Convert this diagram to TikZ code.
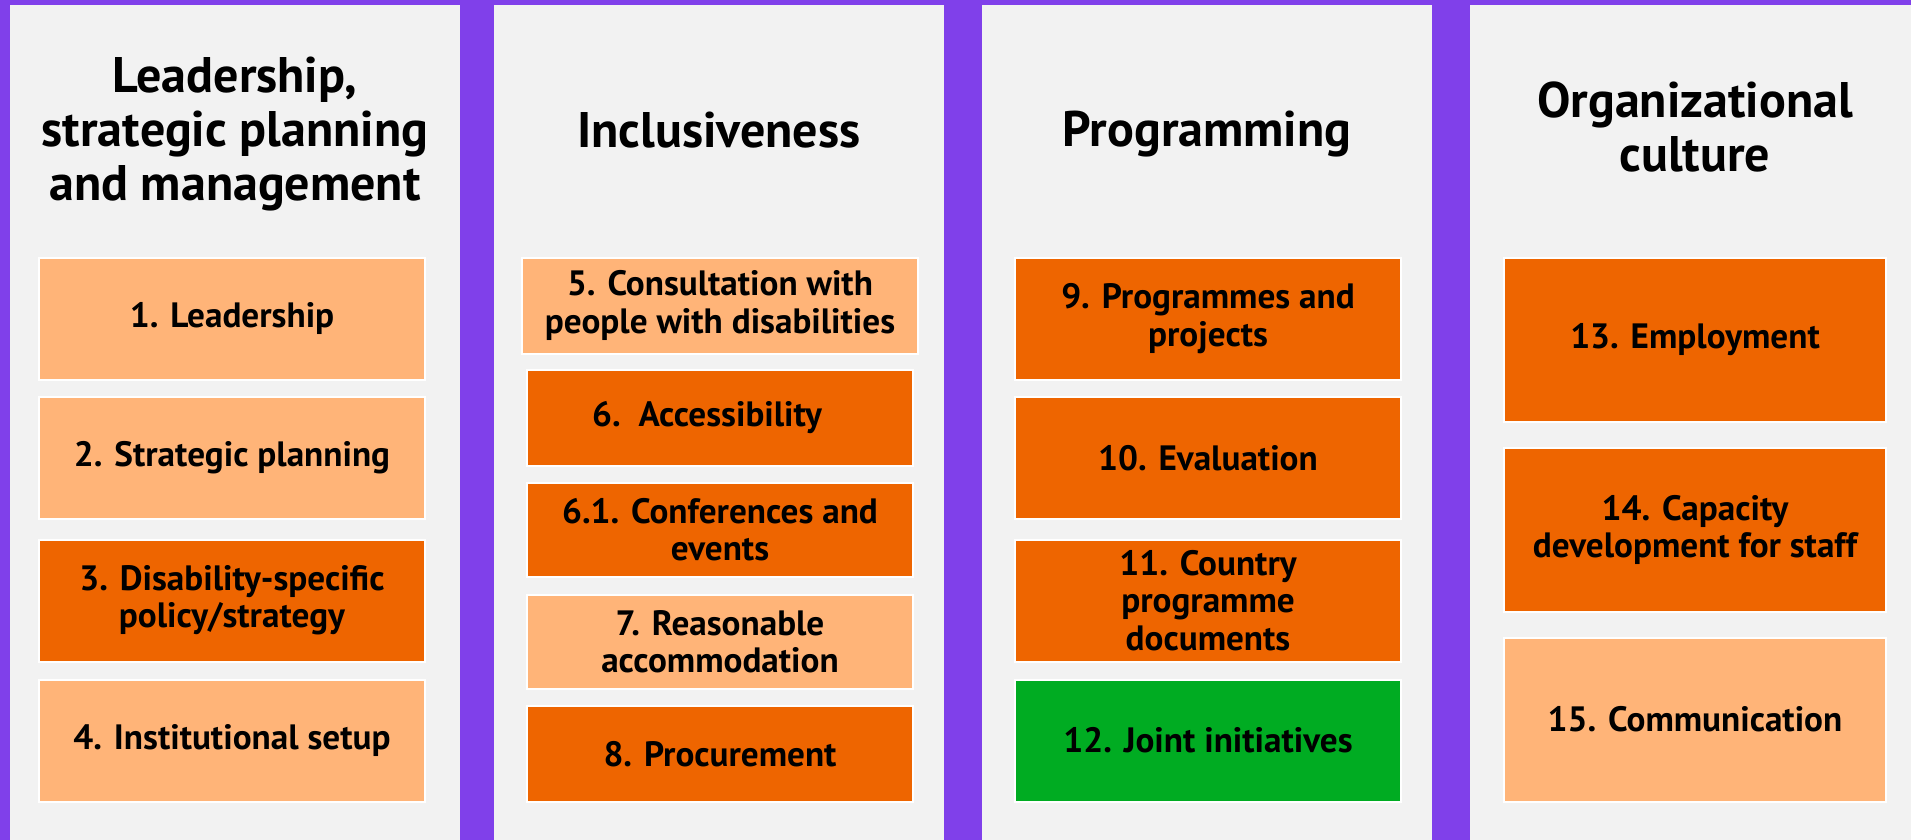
\documentclass[tikz,border=0pt]{standalone}
\usepackage{fontspec}
\setmainfont{PT Sans}
\definecolor{bandpurple}{HTML}{8040EA}
\definecolor{panelgrey}{HTML}{F2F2F2}
\definecolor{lightorange}{HTML}{FFB478}
\definecolor{darkorange}{HTML}{EE6500}
\definecolor{jointgreen}{HTML}{00AC22}
\begin{document}
\begin{tikzpicture}
[x=.5pt,y=-.5pt, title/.style={font=\fontsize{25}{27}\selectfont\bfseries,align=center,inner sep=0pt},
item/.style={draw=white,line width=1pt,align=center,inner sep=0pt,font=\fontsize{17.6}{18.7}\selectfont\bfseries,minimum width=193pt},
lt/.style={item,fill=lightorange},dk/.style={item,fill=darkorange},gr/.style={item,fill=jointgreen}]
\useasboundingbox (0,0) rectangle (1911,840);
\fill[bandpurple] (0,0) rectangle (1911,840);
\foreach \x/\w in {10/450,494/450,982/450,1470/441} \fill[panelgrey] (\x,5) rectangle ++(\w,835);
% column titles
\node(t1) at (235,134)[title]{Leadership,\\strategic planning\\and management};
\node(t2) at (719,130)[title]{Inclusiveness};
\node(t3) at (1207,134.5)[title]{Programming};
\node(t4) at (1695,126.5)[title]{Organizational\\culture};
% leadership
\node(b1) at (232,318.5)[lt,minimum height=61pt]{1. Leadership};\node(b2) at (232,458)[lt,minimum height=61pt]{2. Strategic planning};
\node(b3) at (232,600.5)[dk,minimum height=61pt]{3. Disability-specific\\policy/strategy};\node(b4) at (232,740.5)[lt,minimum height=61pt]{4. Institutional setup};
% inclusiveness
\node(b5) at (720,305.5)[lt,minimum height=48pt,minimum width=198pt]{5. Consultation with\\people with disabilities};
\node(b6) at (720,417.5)[dk,minimum height=48pt]{6.\ \ Accessibility\hspace*{13pt}};\node(b61) at (720,529.5)[dk,minimum height=47pt]{6.1. Conferences and\\events};
\node(b7) at (720,641.5)[lt,minimum height=47pt]{7. Reasonable\\accommodation};\node(b8) at (720,754)[dk,minimum height=48pt]{8. Procurement};
% programming
\node(b9) at (1208,318.5)[dk,minimum height=61pt]{9. Programmes and\\projects};\node(b10) at (1208,458)[dk,minimum height=61pt]{10. Evaluation};
\node(b11) at (1208,600.5)[dk,minimum height=61pt]{11. Country\\programme\\documents};\node(b12) at (1208,740.5)[gr,minimum height=61pt]{12. Joint initiatives};
% organizational culture
\node(b13) at (1695,339.5)[dk,minimum height=82pt,minimum width=191pt]{13. Employment};
\node(b14) at (1695,530)[dk,minimum height=82pt,minimum width=191pt]{14. Capacity\\development for staff};
\node(b15) at (1695,719.5)[lt,minimum height=82pt,minimum width=191pt]{15. Communication};
\end{tikzpicture}
\end{document}
